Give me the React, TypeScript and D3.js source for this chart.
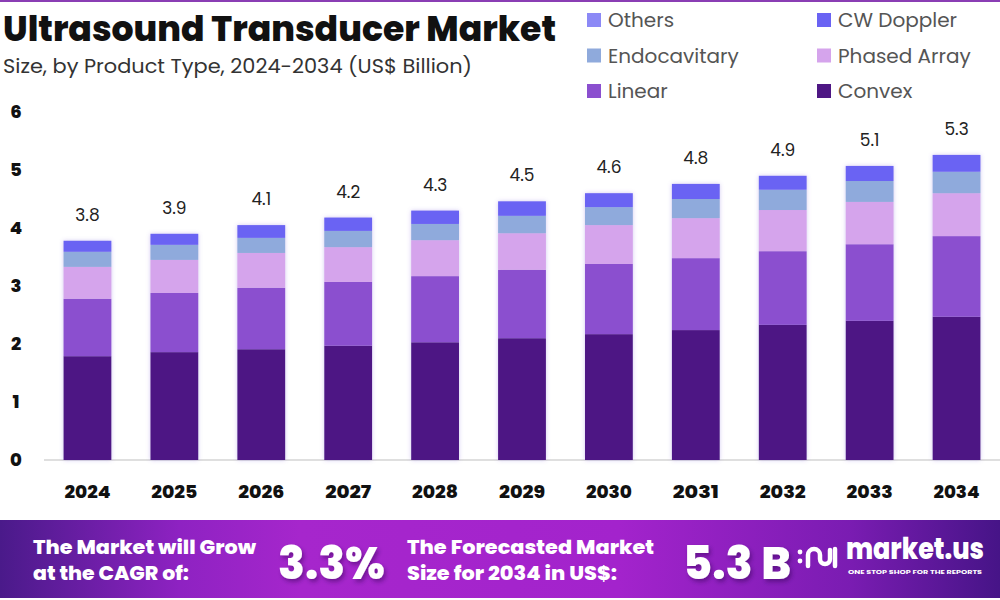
import React from 'react';
import * as d3 from 'd3';

// market size by product type, US$ billion
const years = ['2024', '2025', '2026', '2027', '2028', '2029', '2030', '2031', '2032', '2033', '2034'];
const convex = [1.79, 1.86, 1.91, 1.97, 2.03, 2.10, 2.17, 2.24, 2.33, 2.40, 2.47];
const linear = [0.99, 1.02, 1.06, 1.10, 1.14, 1.18, 1.21, 1.24, 1.27, 1.32, 1.39];
const phasedArray = [0.55, 0.57, 0.60, 0.60, 0.62, 0.63, 0.67, 0.69, 0.71, 0.73, 0.74];
const endocavitary = [0.26, 0.26, 0.26, 0.28, 0.28, 0.30, 0.31, 0.33, 0.35, 0.36, 0.37];
const cwDoppler = [0.19, 0.19, 0.22, 0.23, 0.23, 0.25, 0.24, 0.26, 0.24, 0.26, 0.29];
const others = [0, 0, 0, 0, 0, 0, 0, 0, 0, 0, 0];
const totalLabels = ['3.8', '3.9', '4.1', '4.2', '4.3', '4.5', '4.6', '4.8', '4.9', '5.1', '5.3'];
const yTicks = [0, 1, 2, 3, 4, 5, 6];

// stacking order, bottom to top
const seriesKeys = ['Convex', 'Linear', 'Phased Array', 'Endocavitary', 'CW Doppler', 'Others'];
const seriesValues: Record<string, number[]> = {
  'Convex': convex,
  'Linear': linear,
  'Phased Array': phasedArray,
  'Endocavitary': endocavitary,
  'CW Doppler': cwDoppler,
  'Others': others,
};
const colors: Record<string, string> = {
  'Convex': '#4e1784',
  'Linear': '#8b4fcf',
  'Phased Array': '#d5a4ec',
  'Endocavitary': '#8faadc',
  'CW Doppler': '#6a63f3',
  'Others': '#8c89f6',
};
// legend grid: [left column, right column] per row
const legendRows = [
  ['Others', 'CW Doppler'],
  ['Endocavitary', 'Phased Array'],
  ['Linear', 'Convex'],
];

const W = 1000;
const H = 600;
const FONT = "Poppins, 'Open Sans', Lato, sans-serif";

export default function App() {
  const table = years.map((year, i) => {
    const row: any = { year };
    seriesKeys.forEach((k) => (row[k] = seriesValues[k][i]));
    return row;
  });
  const stacked = d3.stack().keys(seriesKeys)(table);

  const x = d3.scaleBand().domain(years).range([44, 1000]).paddingInner(0.45).paddingOuter(0.225);
  const y = d3.scaleLinear().domain([0, 6]).range([460, 112]);

  const totals = years.map((_, i) => d3.sum(seriesKeys, (k) => seriesValues[k][i]));

  return (
    <svg width={W} height={H} style={{ position: 'absolute', left: 0, top: 0, background: '#fff' }} fontFamily={FONT}>
      <defs>
        <filter id="barGlow" x="-20%" y="-5%" width="140%" height="110%">
          <feDropShadow dx="0" dy="0" stdDeviation="2" floodColor="#7b5fd6" floodOpacity="0.35" />
        </filter>
        <filter id="numShadow" x="-10%" y="-20%" width="130%" height="160%">
          <feDropShadow dx="2" dy="3" stdDeviation="2" floodColor="#2a0a50" floodOpacity="0.45" />
        </filter>
        <linearGradient id="banner" x1="0" x2="1" y1="0" y2="0">
          <stop offset="0" stopColor="#4a1a8a" />
          <stop offset="0.18" stopColor="#8e22c2" />
          <stop offset="0.3" stopColor="#a626cc" />
          <stop offset="0.62" stopColor="#a323cc" />
          <stop offset="0.85" stopColor="#7a1cb2" />
          <stop offset="1" stopColor="#461487" />
        </linearGradient>
      </defs>

      {/* top rule */}
      <rect x={0} y={0} width={W} height={2} fill="#8a3db4" />

      {/* heading */}
      <text x={3} y={41} fontSize={35} fontWeight={800} fill="#111" textLength={553} lengthAdjust="spacingAndGlyphs">
        Ultrasound Transducer Market
      </text>
      <text x={3} y={73} fontSize={20} fill="#333" textLength={469} lengthAdjust="spacingAndGlyphs">
        Size, by Product Type, 2024-2034 (US$ Billion)
      </text>

      {/* legend */}
      {legendRows.map((row, r) =>
        row.map((key, c) => {
          const lx = c === 0 ? 587 : 817;
          const ly = 20 + r * 35.5;
          return (
            <g key={key}>
              <rect x={lx} y={ly - 7} width={14} height={14} fill={colors[key]} />
              <text x={lx + 21} y={ly} dy="0.35em" fontSize={20} fill="#555">
                {key}
              </text>
            </g>
          );
        })
      )}

      {/* y axis labels */}
      {yTicks.map((t) => (
        <text key={t} x={16} y={y(t)} dy="0.35em" textAnchor="middle" fontSize={18} fontWeight={800} fill="#111">
          {t}
        </text>
      ))}

      {/* baseline */}
      <line x1={44} x2={1000} y1={y(0)} y2={y(0)} stroke="#d4d4d4" strokeWidth={1.5} />

      {/* stacked bars */}
      <g filter="url(#barGlow)">
        {stacked.map((layer) => (
          <g key={layer.key} fill={colors[layer.key]}>
            {layer.map((d, i) => (
              <rect
                key={years[i]}
                x={x(years[i])}
                y={y(d[1])}
                width={x.bandwidth()}
                height={Math.max(0, y(d[0]) - y(d[1]))}
              />
            ))}
          </g>
        ))}
      </g>

      {/* totals */}
      {years.map((yr, i) => (
        <text
          key={yr}
          x={(x(yr) as number) + x.bandwidth() / 2}
          y={y(totals[i]) - 20}
          textAnchor="middle"
          fontSize={17}
          fill="#222"
        >
          {totalLabels[i]}
        </text>
      ))}

      {/* year labels */}
      {years.map((yr) => (
        <text
          key={yr}
          x={(x(yr) as number) + x.bandwidth() / 2}
          y={498}
          textAnchor="middle"
          fontSize={18}
          fontWeight={800}
          fill="#111"
          textLength={46}
          lengthAdjust="spacingAndGlyphs"
        >
          {yr}
        </text>
      ))}

      {/* bottom banner */}
      <rect x={0} y={520} width={W} height={78} fill="url(#banner)" />
      <g fill="#fff" fontWeight={800}>
        <text x={33} y={554} fontSize={20} textLength={223} lengthAdjust="spacingAndGlyphs">The Market will Grow</text>
        <text x={33} y={580} fontSize={20} textLength={156} lengthAdjust="spacingAndGlyphs">at the CAGR of:</text>
        <text x={278} y={579} fontSize={46} filter="url(#numShadow)" textLength={107} lengthAdjust="spacingAndGlyphs">3.3%</text>
        <text x={407} y={554} fontSize={20} textLength={247} lengthAdjust="spacingAndGlyphs">The Forecasted Market</text>
        <text x={407} y={580} fontSize={20} textLength={210} lengthAdjust="spacingAndGlyphs">Size for 2034 in US$:</text>
        <text x={683} y={579} fontSize={46} filter="url(#numShadow)" textLength={108} lengthAdjust="spacingAndGlyphs">5.3 B</text>
      </g>

      {/* market.us logo */}
      <g fill="none" stroke="#fff" strokeWidth={4.5} strokeLinecap="round">
        <path d="M808,566 L808,555 A6,6 0 0 1 820,555 L820,559 A5,5 0 0 0 830,559 L830,550" />
        <line x1={835} y1={549} x2={835} y2={566} />
      </g>
      <circle cx={800} cy={552} r={2.4} fill="#fff" />
      <circle cx={800} cy={561} r={2.4} fill="#fff" />
      <text x={846} y={559} fontSize={29} fontWeight={800} fill="#fff" textLength={138} lengthAdjust="spacingAndGlyphs">
        market.us
      </text>
      <text x={848} y={574} fontSize={5.5} fontWeight={700} fill="#fff" textLength={134} lengthAdjust="spacingAndGlyphs">
        ONE STOP SHOP FOR THE REPORTS
      </text>
    </svg>
  );
}
